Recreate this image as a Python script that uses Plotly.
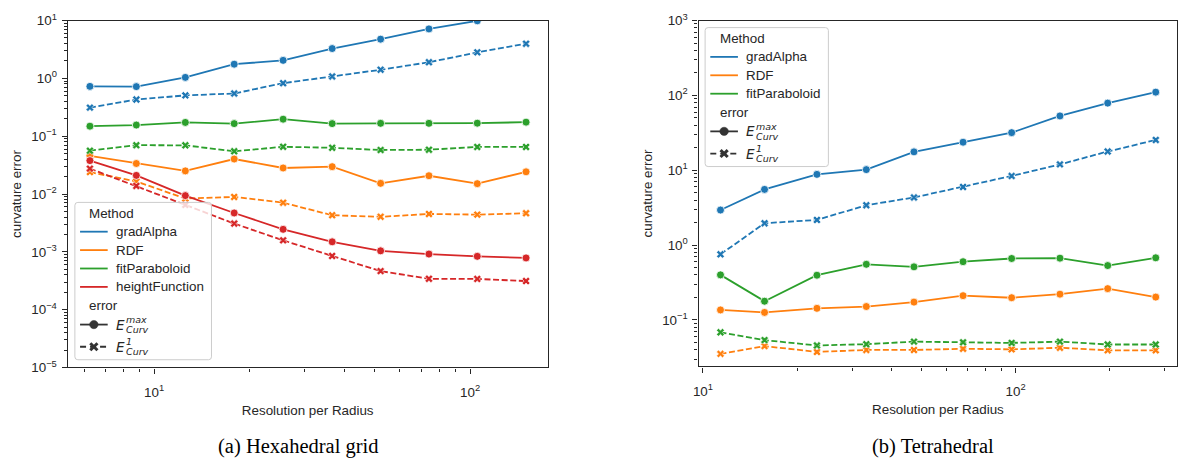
import plotly.graph_objects as go

# ---------------- data ----------------
methods_hex = ["gradAlpha", "RDF", "fitParaboloid", "heightFunction"]
methods_tet = ["gradAlpha", "RDF", "fitParaboloid"]
colors = {"gradAlpha": "#1f77b4", "RDF": "#ff7f0e", "fitParaboloid": "#2ca02c", "heightFunction": "#d62728"}

res_hex = [6.26, 8.78, 12.55, 17.92, 25.6, 36.6, 52.1, 74.1, 105.4, 150.4]
hex_gradAlpha_max = [0.727, 0.72, 1.04, 1.76, 2.05, 3.28, 4.77, 7.17, 9.9, 14.0]
hex_gradAlpha_l1 = [0.312, 0.43, 0.508, 0.548, 0.826, 1.08, 1.41, 1.90, 2.82, 3.98]
hex_RDF_max = [0.0458, 0.0337, 0.0251, 0.0403, 0.0282, 0.0297, 0.0153, 0.0207, 0.0151, 0.0242]
hex_RDF_l1 = [0.0239, 0.0165, 0.00836, 0.0089, 0.00708, 0.0043, 0.00403, 0.00452, 0.0044, 0.00464]
hex_fitParaboloid_max = [0.149, 0.156, 0.173, 0.165, 0.197, 0.165, 0.167, 0.167, 0.168, 0.175]
hex_fitParaboloid_l1 = [0.0562, 0.0699, 0.0695, 0.0548, 0.0656, 0.063, 0.0577, 0.0584, 0.0652, 0.0652]
hex_heightFunction_max = [0.0378, 0.021, 0.00938, 0.0047, 0.00245, 0.00149, 0.00104, 0.000915, 0.000836, 0.000784]
hex_heightFunction_l1 = [0.0275, 0.0138, 0.00648, 0.00308, 0.00158, 0.000848, 0.000464, 0.000342, 0.00034, 0.000312]

res_tet = [11.38, 15.74, 23.15, 33.3, 47.3, 67.9, 97.1, 138.6, 197.0, 280.6]
tet_gradAlpha_max = [2.94, 5.55, 8.81, 10.2, 17.6, 23.7, 31.8, 53.2, 78.9, 110.6]
tet_gradAlpha_l1 = [0.753, 1.96, 2.17, 3.41, 4.33, 5.98, 8.39, 11.98, 17.8, 25.4]
tet_RDF_max = [0.136, 0.126, 0.143, 0.151, 0.173, 0.211, 0.198, 0.221, 0.262, 0.202]
tet_RDF_l1 = [0.0352, 0.0447, 0.0374, 0.0397, 0.0397, 0.0412, 0.0405, 0.0425, 0.0393, 0.0393]
tet_fitParaboloid_max = [0.400, 0.178, 0.396, 0.554, 0.512, 0.600, 0.662, 0.669, 0.533, 0.676]
tet_fitParaboloid_l1 = [0.0683, 0.0538, 0.0456, 0.0474, 0.0513, 0.0502, 0.0493, 0.0513, 0.0470, 0.0470]

hex_series = {
    "gradAlpha": (hex_gradAlpha_max, hex_gradAlpha_l1),
    "RDF": (hex_RDF_max, hex_RDF_l1),
    "fitParaboloid": (hex_fitParaboloid_max, hex_fitParaboloid_l1),
    "heightFunction": (hex_heightFunction_max, hex_heightFunction_l1),
}
tet_series = {
    "gradAlpha": (tet_gradAlpha_max, tet_gradAlpha_l1),
    "RDF": (tet_RDF_max, tet_RDF_l1),
    "fitParaboloid": (tet_fitParaboloid_max, tet_fitParaboloid_l1),
}

x_tickvals = [10, 100]
x_ticktext = ["10<sup>1</sup>", "10<sup>2</sup>"]
hex_y_tickvals = [1e-5, 1e-4, 1e-3, 1e-2, 1e-1, 1, 10]
hex_y_ticktext = ["10<sup>−5</sup>", "10<sup>−4</sup>", "10<sup>−3</sup>", "10<sup>−2</sup>",
                  "10<sup>−1</sup>", "10<sup>0</sup>", "10<sup>1</sup>"]
tet_y_tickvals = [1e-1, 1, 10, 100, 1000]
tet_y_ticktext = ["10<sup>−1</sup>", "10<sup>0</sup>", "10<sup>1</sup>", "10<sup>2</sup>", "10<sup>3</sup>"]
legend_title_method = "Method"
legend_title_error = "error"
error_sup = ["max", "1"]
error_sub = "Curv"

# ---------------- styling ----------------
W, H = 1179, 467
FONT = "Liberation Sans, Arial, sans-serif"
MATH = "DejaVu Sans, sans-serif"
INK = "#262626"
LW = 1.8
DASH = "6px,2.6px"

fig = go.Figure()


def add_panel(res, series, xa, ya):
    for m, (vmax, vl1) in series.items():
        c = colors[m]
        fig.add_trace(go.Scatter(
            x=res, y=vmax, mode="lines+markers", xaxis=xa, yaxis=ya, showlegend=False, name=m,
            line=dict(color=c, width=LW),
            marker=dict(symbol="circle", size=8, color=c, line=dict(color="white", width=0.8)),
        ))
        fig.add_trace(go.Scatter(
            x=res, y=vl1, mode="lines+markers", xaxis=xa, yaxis=ya, showlegend=False, name=m,
            line=dict(color=c, width=LW, dash=DASH),
            marker=dict(symbol="x", size=7, color=c, line=dict(color="white", width=0.6)),
        ))


add_panel(res_hex, hex_series, "x", "y")
add_panel(res_tet, tet_series, "x2", "y2")

# ---------------- hand-built seaborn-style legends ----------------
shapes = []
annotations = []


def PX(x):
    return x / W


def PY(y):
    return 1 - y / H


def text(x, y, s, size=13.4, family=FONT, italic=False):
    if italic:
        s = "<i>" + s + "</i>"
    annotations.append(dict(text=s, x=PX(x), y=PY(y), xref="paper", yref="paper", showarrow=False,
                            xanchor="left", yanchor="middle", borderpad=0,
                            font=dict(family=family, size=size, color=INK)))


def draw_legend(bx, by, bw, methods):
    n = len(methods)
    bh = 11.3 + 19.1 * (n + 1) + 20 + 23 + 13 + 0.5
    r = 3
    x0, x1, y0, y1 = bx, bx + bw, by, by + bh
    path = (f"M {PX(x0 + r)},{PY(y0)} L {PX(x1 - r)},{PY(y0)} Q {PX(x1)},{PY(y0)} {PX(x1)},{PY(y0 + r)} "
            f"L {PX(x1)},{PY(y1 - r)} Q {PX(x1)},{PY(y1)} {PX(x1 - r)},{PY(y1)} "
            f"L {PX(x0 + r)},{PY(y1)} Q {PX(x0)},{PY(y1)} {PX(x0)},{PY(y1 - r)} "
            f"L {PX(x0)},{PY(y0 + r)} Q {PX(x0)},{PY(y0)} {PX(x0 + r)},{PY(y0)} Z")
    shapes.append(dict(type="path", path=path, xref="paper", yref="paper",
                       fillcolor="rgba(255,255,255,0.8)", line=dict(color="#cccccc", width=1)))
    lx0, lx1, tx, gx = bx + 5.2, bx + 33, bx + 40.5, bx + 13.5
    y = by + 11.3
    text(gx, y, legend_title_method)
    for m in methods:
        y += 19.1
        shapes.append(dict(type="line", xref="paper", yref="paper", x0=PX(lx0), x1=PX(lx1),
                           y0=PY(y), y1=PY(y), line=dict(color=colors[m], width=LW)))
        text(tx, y, m)
    y += 19.1
    text(gx, y, legend_title_error)
    # E max (solid + circle)
    y += 20
    mc = "#333333"
    cx = (lx0 + lx1) / 2
    shapes.append(dict(type="line", xref="paper", yref="paper", x0=PX(lx0), x1=PX(lx1),
                       y0=PY(y), y1=PY(y), line=dict(color=mc, width=LW)))
    shapes.append(dict(type="circle", xref="paper", yref="paper", x0=PX(cx - 4.3), x1=PX(cx + 4.3),
                       y0=PY(y - 4.3), y1=PY(y + 4.3), fillcolor=mc, line=dict(color=mc, width=0.5)))
    text(tx, y, "E", size=13.5, family=MATH, italic=True)
    text(tx + 9.5, y - 5.2, error_sup[0], size=9.5, family=MATH, italic=True)
    text(tx + 9.5, y + 5.0, error_sub, size=9.5, family=MATH, italic=True)
    # E 1 (dashed + X)
    y += 23
    shapes.append(dict(type="line", xref="paper", yref="paper", x0=PX(lx0), x1=PX(lx1),
                       y0=PY(y), y1=PY(y), line=dict(color=mc, width=LW, dash="6px,4px")))
    s = 3.6
    for sgn in (1, -1):
        shapes.append(dict(type="line", xref="paper", yref="paper", x0=PX(cx - s), x1=PX(cx + s),
                           y0=PY(y - sgn * s), y1=PY(y + sgn * s), line=dict(color=mc, width=3)))
    text(tx, y, "E", size=13.5, family=MATH, italic=True)
    text(tx + 9.5, y - 5.2, error_sup[1], size=9.5, family=MATH, italic=True)
    text(tx + 9.5, y + 5.0, error_sub, size=9.5, family=MATH, italic=True)


draw_legend(69.3, 200.7, 137.4, methods_hex)
draw_legend(703.3, 19.3, 124.0, methods_tet)


def axis_common():
    return dict(
        type="log", showgrid=False, zeroline=False, showline=True, linecolor=INK, linewidth=1.2,
        mirror=True, ticks="outside", ticklen=5, tickwidth=1.1, tickcolor=INK,
        tickfont=dict(family=FONT, size=13.4, color=INK), tickmode="array",
        title=dict(font=dict(family=FONT, size=13.4, color=INK)),
    )


def minor_vals(lo, hi):
    vals = []
    d = lo
    while d < hi:
        for k in range(2, 10):
            vals.append(k * d)
        d *= 10
    return vals


minor_style = dict(ticks="outside", ticklen=3, tickwidth=0.9, tickcolor=INK, tickmode="array")

xa1 = axis_common()
xa1.update(domain=[62 / W, 545 / W], range=[0.726, 2.246], anchor="y",
           tickvals=x_tickvals, ticktext=x_ticktext, ticklabelstandoff=7,
           minor=dict(minor_style, tickvals=minor_vals(1, 1000)))
xa1["title"].update(text="Resolution per Radius", standoff=6)

ya1 = axis_common()
ya1.update(domain=[1 - 372 / H, 1 - 12 / H], range=[-5, 1], anchor="x",
           tickvals=hex_y_tickvals, ticktext=hex_y_ticktext, ticklabelstandoff=2,
           minor=dict(minor_style, tickvals=minor_vals(1e-5, 10)))
ya1["title"].update(text="curvature error", standoff=6)

xa2 = axis_common()
xa2.update(domain=[696.7 / W, 1178.3 / W], range=[0.986, 2.517], anchor="y2",
           tickvals=x_tickvals, ticktext=x_ticktext, ticklabelstandoff=7,
           minor=dict(minor_style, tickvals=minor_vals(1, 1000)))
xa2["title"].update(text="Resolution per Radius", standoff=6)

ya2 = axis_common()
ya2.update(domain=[1 - 371 / H, 1 - 12 / H], range=[-1.622, 3], anchor="x2",
           tickvals=tet_y_tickvals, ticktext=tet_y_ticktext, ticklabelstandoff=2,
           minor=dict(minor_style, tickvals=minor_vals(0.01, 1000)))
ya2["title"].update(text="curvature error", standoff=6)

CAP = dict(family="Liberation Serif, Times New Roman, serif", size=20.5, color="black")
annotations += [
    dict(text="(a) Hexahedral grid", x=294.7 / W, y=PY(454), xref="paper", yref="paper",
         showarrow=False, xanchor="center", yanchor="middle", font=CAP),
    dict(text="(b) Tetrahedral", x=933 / W, y=PY(454), xref="paper", yref="paper",
         showarrow=False, xanchor="center", yanchor="middle", font=CAP),
]

fig.update_layout(
    width=W, height=H,
    margin=dict(l=0, r=0, t=0, b=0),
    paper_bgcolor="white", plot_bgcolor="white",
    font=dict(family=FONT, color=INK),
    showlegend=False,
    xaxis=xa1, yaxis=ya1, xaxis2=xa2, yaxis2=ya2,
    shapes=shapes, annotations=annotations,
)

fig.write_html("out.html")
